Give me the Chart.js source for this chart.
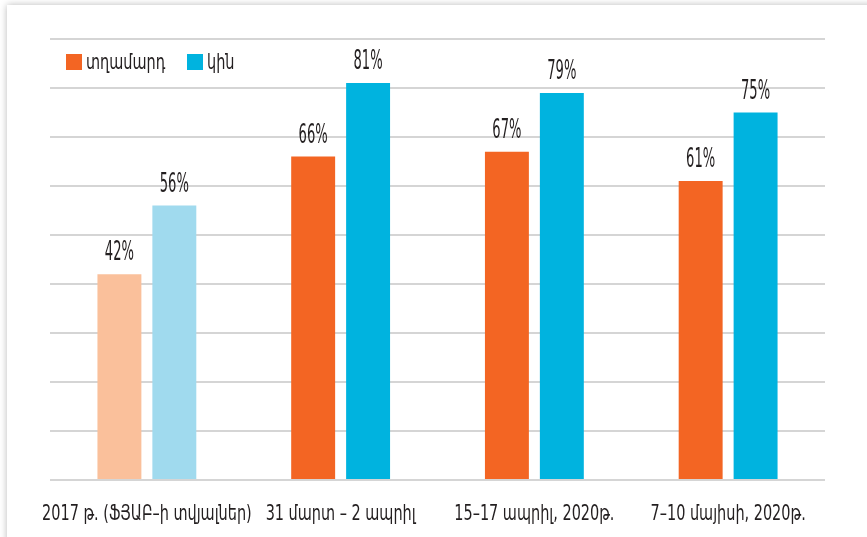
<!DOCTYPE html>
<html>
<head>
<meta charset="utf-8">
<script src="https://cdn.jsdelivr.net/npm/chart.js@4.4.0/dist/chart.umd.min.js"></script>
<style>
  html, body { margin: 0; padding: 0; background: #fff; overflow: hidden; }
  .panel {
    position: absolute; left: 7px; top: 5px; width: 920px; height: 600px;
    background: #fff; box-shadow: 0 0 7px rgba(0, 0, 0, 0.28);
  }
  #chart { position: absolute; left: 0; top: 0; }
</style>
</head>
<body>
<div class="panel"></div>
<canvas id="chart" width="867" height="537"></canvas>
<script>
// Data
const categories = ['2017 թ. (ՖՅԱԲ–ի տվյալներ)', '31 մարտ – 2 ապրիլ', '15–17 ապրիլ, 2020թ.', '7–10 մայիսի, 2020թ.'];
const seriesNames = ['տղամարդ', 'կին'];
const menValues = [42, 66, 67, 61];
const womenValues = [56, 81, 79, 75];
const yTicks = [0, 10, 20, 30, 40, 50, 60, 70, 80, 90];

const ORANGE = '#F36523';
const BLUE = '#00B3DF';
const FONT = "'DejaVu Sans Condensed', 'DejaVu Sans', sans-serif";

// first group is lighter (older data)
const menColors = ['#FAC09B', ORANGE, ORANGE, ORANGE];
const womenColors = ['#A0DAEE', BLUE, BLUE, BLUE];

function squeezeText(ctx, text, x, y, size, sx, align) {
    ctx.save();
    ctx.font = '300 ' + size + 'px ' + FONT;
    ctx.fillStyle = '#231f20';
    ctx.textBaseline = 'alphabetic';
    ctx.textAlign = align;
    ctx.translate(x, y);
    ctx.scale(sx, 1);
    ctx.fillText(text, 0, 0);
    ctx.restore();
}

// value labels, category labels and legend in the narrow typeface
const textPlugin = {
    id: 'textPlugin',
    afterDatasetsDraw(chart) {
        const ctx = chart.ctx;
        chart.data.datasets.forEach((ds, di) => {
            chart.getDatasetMeta(di).data.forEach((bar, i) => {
                squeezeText(ctx, ds.data[i] + '%', bar.x, bar.y - 14, 26, 0.56, 'center');
            });
        });

        const xScale = chart.scales.x;
        categories.forEach((c, i) => {
            squeezeText(ctx, c, xScale.getPixelForValue(i), 520, 22, 0.73, 'center');
        });

        // legend
        const legendX = [66, 187];
        chart.data.datasets.forEach((ds, di) => {
            ctx.fillStyle = di === 0 ? ORANGE : BLUE;
            ctx.fillRect(legendX[di], 54, 16, 16);
            squeezeText(ctx, seriesNames[di], legendX[di] + 20, 69, 22, 0.73, 'left');
        });
    }
};

new Chart(document.getElementById('chart').getContext('2d'), {
    type: 'bar',
    data: {
        labels: categories,
        datasets: [{
            label: seriesNames[0],
            data: menValues,
            backgroundColor: menColors,
            barPercentage: 0.8,
            categoryPercentage: 0.567
        }, {
            label: seriesNames[1],
            data: womenValues,
            backgroundColor: womenColors,
            barPercentage: 0.8,
            categoryPercentage: 0.567
        }]
    },
    options: {
        responsive: false,
        animation: false,
        devicePixelRatio: 1,
        layout: {
            padding: { left: 50, right: 42, top: 39, bottom: 57 }
        },
        plugins: {
            legend: { display: false },
            tooltip: { enabled: false }
        },
        scales: {
            x: {
                grid: { display: false, drawTicks: false },
                border: { display: false },
                ticks: { display: false }
            },
            y: {
                min: yTicks[0],
                max: yTicks[yTicks.length - 1],
                afterBuildTicks: function(scale) {
                    scale.ticks = yTicks.map(v => ({ value: v }));
                },
                grid: { color: '#d5d5d5', lineWidth: 2, drawTicks: false },
                border: { display: false },
                ticks: { display: false }
            }
        }
    },
    plugins: [textPlugin]
});
</script>
</body>
</html>
